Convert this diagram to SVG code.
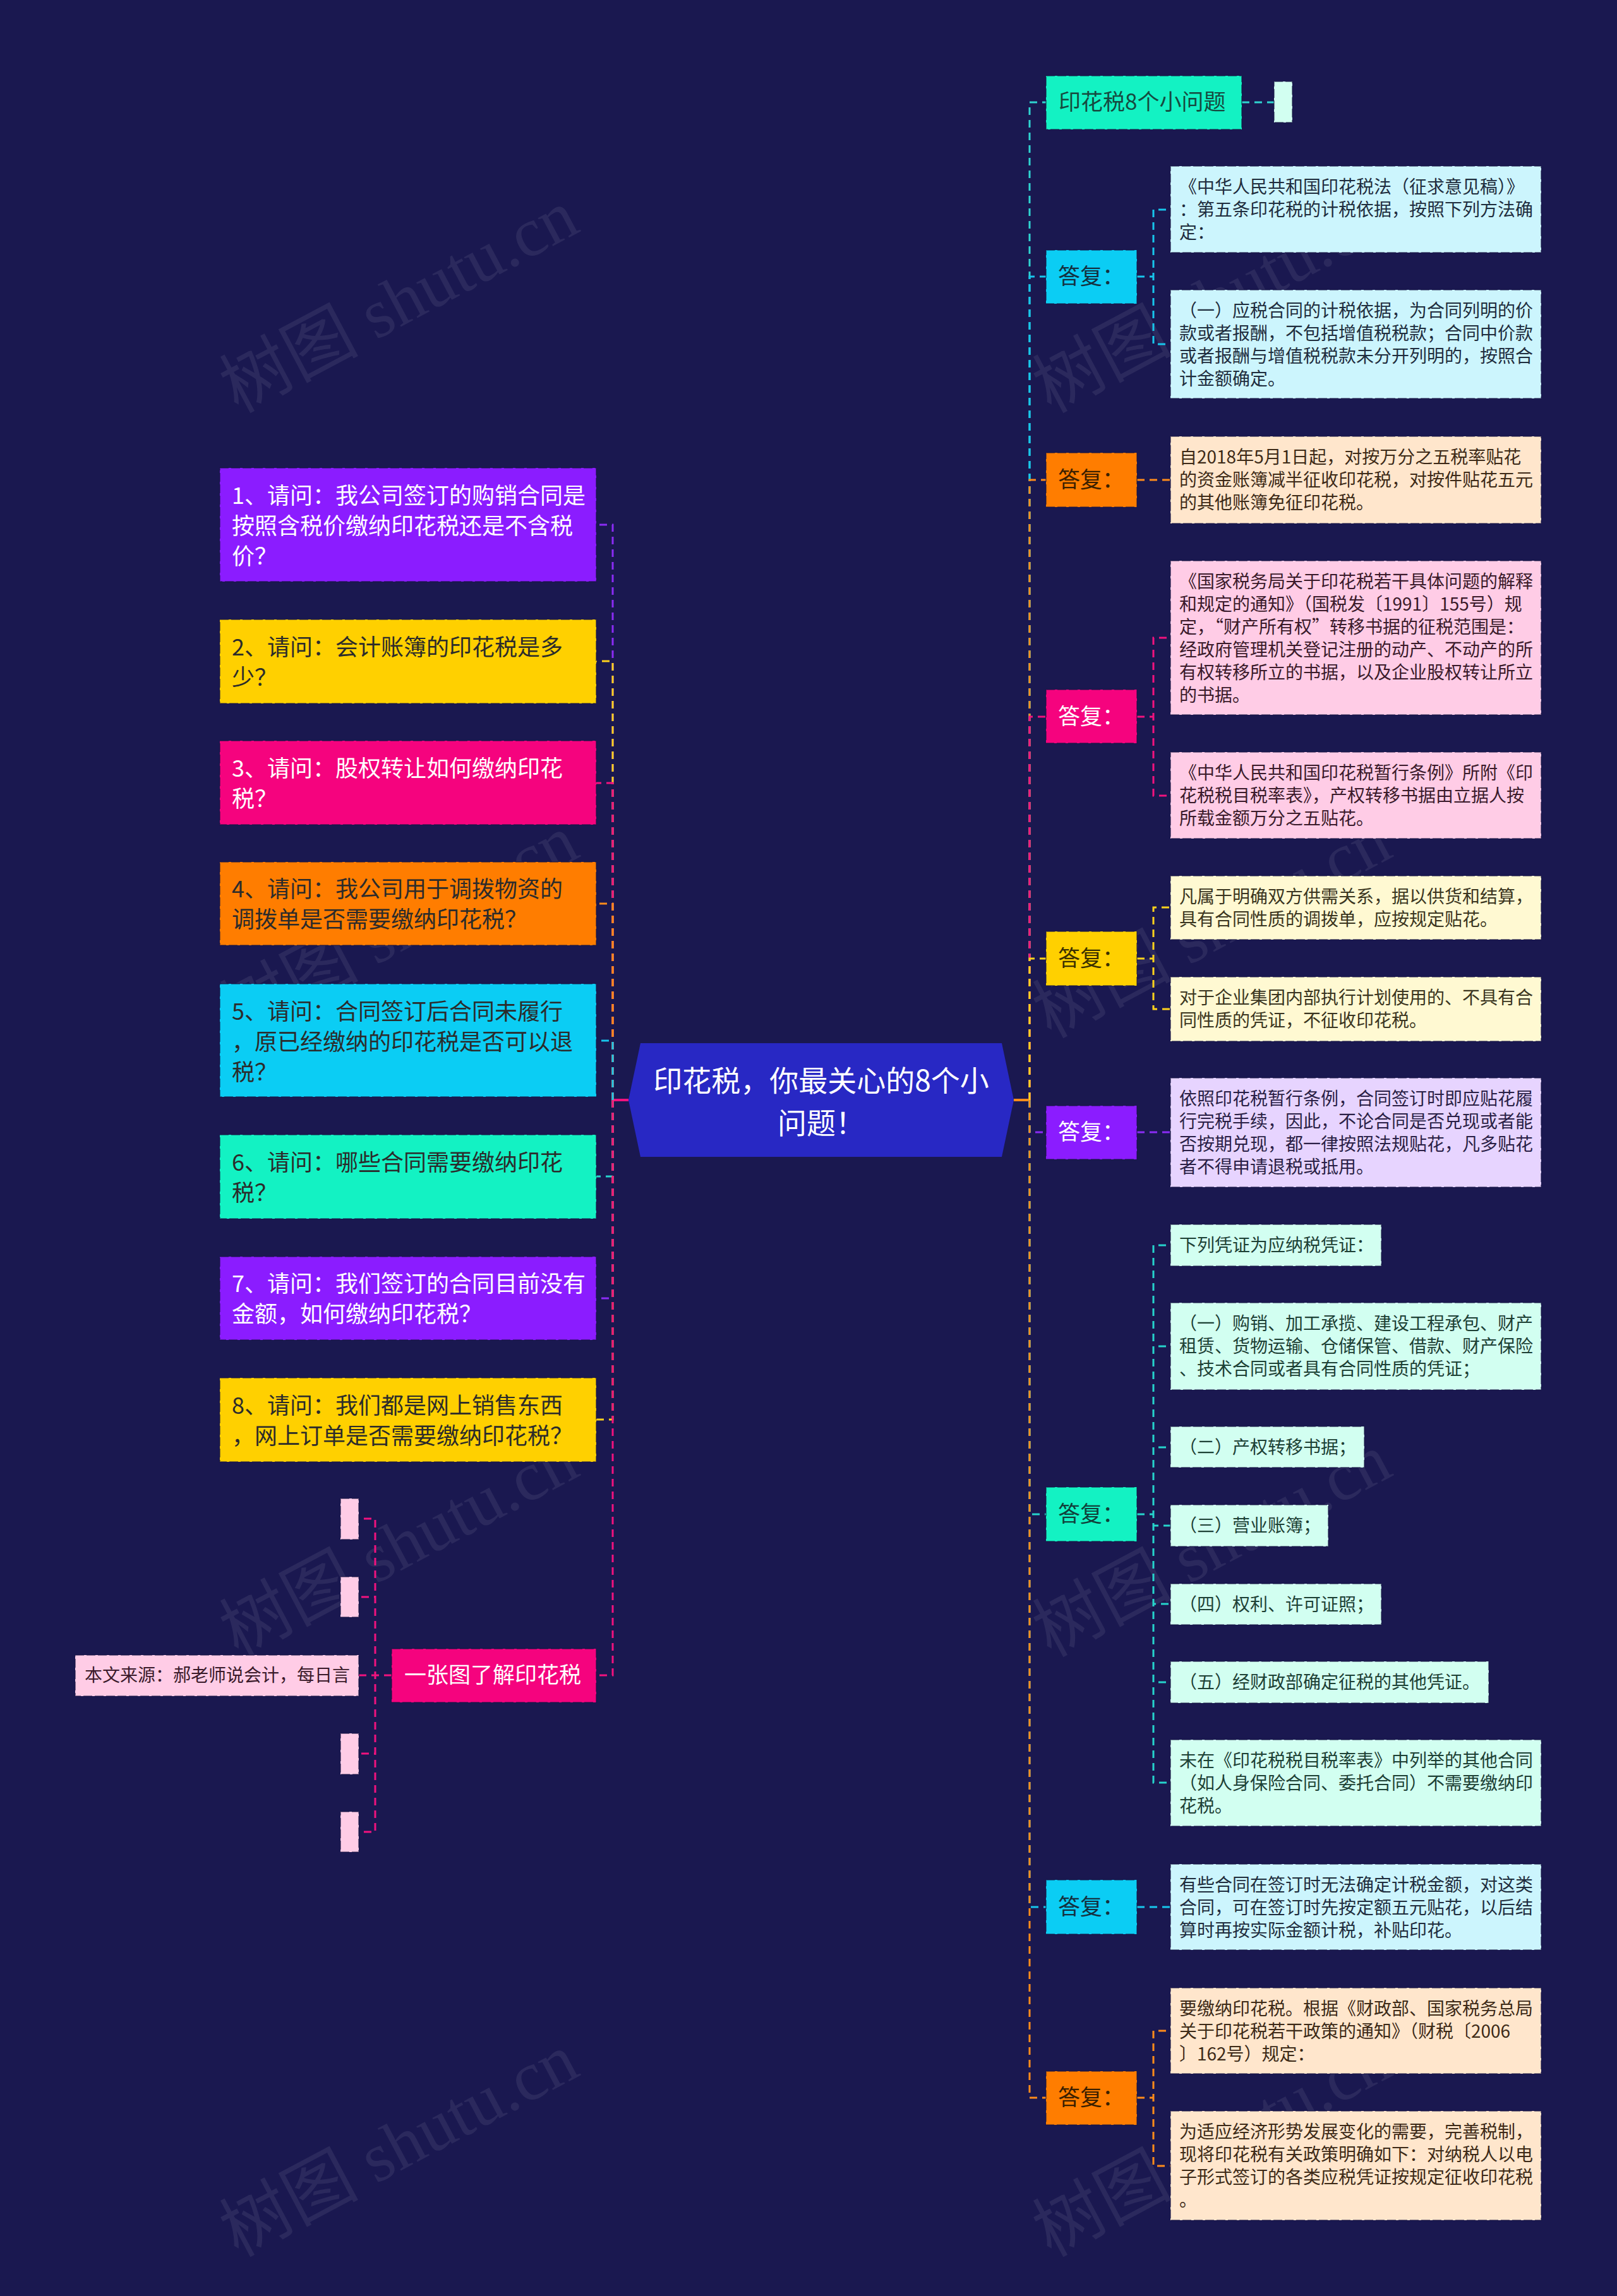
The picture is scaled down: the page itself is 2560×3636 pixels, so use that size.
<svg xmlns="http://www.w3.org/2000/svg" width="2560" height="3636" viewBox="0 0 2560 3636">
<style>
text{font-family:"Noto Sans CJK SC","Noto Sans",sans-serif}
.c{fill:none;stroke-width:3;stroke-dasharray:12 8}
.b{stroke:#14123f;stroke-opacity:.5;stroke-width:2;stroke-dasharray:14 4}
.t28{font-size:28px}
.t35{font-size:35px}
.t36{font-size:36px}
.wm{font-family:"Liberation Serif","Noto Sans CJK SC",serif;font-size:110px;fill:#9a9ab8;opacity:.13}
.vio{fill:#8b1cff}.yel{fill:#ffd000}.pnk{fill:#f5037e}.org{fill:#ff7d00}.cya{fill:#0bcdf4}.aqu{fill:#13f2c3}
.lcy{fill:#ccf5fd}.lor{fill:#ffe6cc}.lpk{fill:#ffcce6}.lye{fill:#fff9d2}.lvi{fill:#e7d4ff}.lmi{fill:#d2fff1}
.w{fill:#ffffff}
</style>
<rect width="2560" height="3636" fill="#1a1850"/>

<g id="watermarks">
<text class="wm" transform="translate(649,510) rotate(-28)" text-anchor="middle">树图 shutu.cn</text>
<text class="wm" transform="translate(1936,510) rotate(-28)" text-anchor="middle">树图 shutu.cn</text>
<text class="wm" transform="translate(649,1500) rotate(-28)" text-anchor="middle">树图 shutu.cn</text>
<text class="wm" transform="translate(1936,1500) rotate(-28)" text-anchor="middle">树图 shutu.cn</text>
<text class="wm" transform="translate(649,2480) rotate(-28)" text-anchor="middle">树图 shutu.cn</text>
<text class="wm" transform="translate(1936,2480) rotate(-28)" text-anchor="middle">树图 shutu.cn</text>
<text class="wm" transform="translate(649,3430) rotate(-28)" text-anchor="middle">树图 shutu.cn</text>
<text class="wm" transform="translate(1936,3430) rotate(-28)" text-anchor="middle">树图 shutu.cn</text>
</g>

<g id="connectors">
<line x1="1605" y1="1742" x2="1630" y2="1742" stroke="#ff8c1a" stroke-width="4"/>
<line x1="970" y1="1742" x2="995" y2="1742" stroke="#f2127e" stroke-width="4"/>
<path class="c" stroke="#2fd4d0" d="M1630,1742V162H1656"/>
<path class="c" stroke="#17c6ec" d="M1630,1742V438H1656"/>
<path class="c" stroke="#ff8c1a" d="M1630,1742V760H1656"/>
<path class="c" stroke="#f2127e" d="M1630,1742V1135H1656"/>
<path class="c" stroke="#ffd21c" d="M1630,1742V1518H1656"/>
<path class="c" stroke="#8b2cf5" d="M1630,1742V1793H1656"/>
<path class="c" stroke="#26d4cc" d="M1630,1742V2398H1656"/>
<path class="c" stroke="#17c6ec" d="M1630,1742V3020H1656"/>
<path class="c" stroke="#ff8c1a" d="M1630,1742V3322H1656"/>
<path class="c" stroke="#2fd4d0" d="M1966,162H2017"/>
<path class="c" stroke="#17c6ec" d="M1800,438H1826V332H1853M1800,438H1826V545H1853"/>
<path class="c" stroke="#ff8c1a" d="M1800,760H1853"/>
<path class="c" stroke="#f2127e" d="M1800,1135H1826V1010H1853M1800,1135H1826V1260H1853"/>
<path class="c" stroke="#ffd21c" d="M1800,1518H1826V1437H1853M1800,1518H1826V1598H1853"/>
<path class="c" stroke="#8b2cf5" d="M1800,1793H1853"/>
<path class="c" stroke="#26d4cc" d="M1800,2398H1826V1972H1853M1800,2398H1826V2132H1853M1800,2398H1826V2292H1853M1800,2398H1826V2416H1853M1800,2398H1826V2540H1853M1800,2398H1826V2664H1853M1800,2398H1826V2823H1853"/>
<path class="c" stroke="#17c6ec" d="M1800,3020H1853"/>
<path class="c" stroke="#ff8c1a" d="M1800,3322H1826V3216H1853M1800,3322H1826V3430H1853"/>
<path class="c" stroke="#8b2cf5" d="M970,1742V831H944"/>
<path class="c" stroke="#ffd21c" d="M970,1742V1047H944"/>
<path class="c" stroke="#f2127e" d="M970,1742V1240H944"/>
<path class="c" stroke="#ff8c1a" d="M970,1742V1431H944"/>
<path class="c" stroke="#17c6ec" d="M970,1742V1648H944"/>
<path class="c" stroke="#26d4cc" d="M970,1742V1863H944"/>
<path class="c" stroke="#8b2cf5" d="M970,1742V2056H944"/>
<path class="c" stroke="#ffd21c" d="M970,1742V2248H944"/>
<path class="c" stroke="#f2127e" d="M970,1742V2653H944"/>
<path class="c" stroke="#f2127e" d="M620,2653H594V2405H568M620,2653H594V2529H568M620,2653H594V2653H568M620,2653H594V2777H568M620,2653H594V2901H568"/>
</g>

<g id="center">
<polygon points="995,1742 1014,1652 1586,1652 1605,1742 1586,1832 1014,1832" fill="#2828c4"/>
<text x="1300" y="1728" font-size="46" fill="#ffffff" text-anchor="middle">印花税，你最关心的8个小</text>
<text x="1300" y="1795" font-size="46" fill="#ffffff" text-anchor="middle">问题！</text>
</g>

<g id="r1">
<rect class="aqu b" x="1656" y="120" width="310" height="85"/>
<text class="t35" x="1676" y="174" fill="#164a40">印花税8个小问题</text>
</g>
<g id="r1a"><rect class="lmi b" x="2017" y="129" width="29" height="65"/></g>

<g id="r2">
<rect class="cya b" x="1656" y="396" width="144" height="85"/>
<text class="t35" x="1675" y="450" fill="#143040">答复：</text>
</g>
<g id="r2a">
<rect class="lcy b" x="1853" y="263" width="587" height="137"/>
<text class="t28" fill="#1f2d3d"><tspan x="1867" y="306">《中华人民共和国印花税法（征求意见稿）》</tspan><tspan x="1867" y="342">：第五条印花税的计税依据，按照下列方法确</tspan><tspan x="1867" y="378">定：</tspan></text>
</g>
<g id="r2b">
<rect class="lcy b" x="1853" y="459" width="587" height="172"/>
<text class="t28" fill="#1f2d3d"><tspan x="1867" y="502">（一）应税合同的计税依据，为合同列明的价</tspan><tspan x="1867" y="538">款或者报酬，不包括增值税税款；合同中价款</tspan><tspan x="1867" y="574">或者报酬与增值税税款未分开列明的，按照合</tspan><tspan x="1867" y="610">计金额确定。</tspan></text>
</g>

<g id="r3">
<rect class="org b" x="1656" y="717" width="144" height="86"/>
<text class="t35" x="1675" y="772" fill="#3a2000">答复：</text>
</g>
<g id="r3a">
<rect class="lor b" x="1853" y="691" width="587" height="138"/>
<text class="t28" fill="#3d2a17"><tspan x="1867" y="734">自2018年5月1日起，对按万分之五税率贴花</tspan><tspan x="1867" y="770">的资金账簿减半征收印花税，对按件贴花五元</tspan><tspan x="1867" y="806">的其他账簿免征印花税。</tspan></text>
</g>

<g id="r4">
<rect class="pnk b" x="1656" y="1092" width="144" height="85"/>
<text class="t35 w" x="1675" y="1147">答复：</text>
</g>
<g id="r4a">
<rect class="lpk b" x="1853" y="888" width="587" height="244"/>
<text class="t28" fill="#3a1a2a"><tspan x="1867" y="931">《国家税务局关于印花税若干具体问题的解释</tspan><tspan x="1867" y="967">和规定的通知》（国税发〔1991〕155号）规</tspan><tspan x="1867" y="1003">定，“财产所有权”转移书据的征税范围是：</tspan><tspan x="1867" y="1039">经政府管理机关登记注册的动产、不动产的所</tspan><tspan x="1867" y="1075">有权转移所立的书据，以及企业股权转让所立</tspan><tspan x="1867" y="1111">的书据。</tspan></text>
</g>
<g id="r4b">
<rect class="lpk b" x="1853" y="1191" width="587" height="137"/>
<text class="t28" fill="#3a1a2a"><tspan x="1867" y="1234">《中华人民共和国印花税暂行条例》所附《印</tspan><tspan x="1867" y="1270">花税税目税率表》，产权转移书据由立据人按</tspan><tspan x="1867" y="1306">所载金额万分之五贴花。</tspan></text>
</g>

<g id="r5">
<rect class="yel b" x="1656" y="1475" width="144" height="86"/>
<text class="t35" x="1675" y="1530" fill="#3a3000">答复：</text>
</g>
<g id="r5a">
<rect class="lye b" x="1853" y="1387" width="587" height="101"/>
<text class="t28" fill="#3a3520"><tspan x="1867" y="1430">凡属于明确双方供需关系，据以供货和结算，</tspan><tspan x="1867" y="1466">具有合同性质的调拨单，应按规定贴花。</tspan></text>
</g>
<g id="r5b">
<rect class="lye b" x="1853" y="1547" width="587" height="102"/>
<text class="t28" fill="#3a3520"><tspan x="1867" y="1590">对于企业集团内部执行计划使用的、不具有合</tspan><tspan x="1867" y="1626">同性质的凭证，不征收印花税。</tspan></text>
</g>

<g id="r6">
<rect class="vio b" x="1656" y="1751" width="144" height="85"/>
<text class="t35 w" x="1675" y="1805">答复：</text>
</g>
<g id="r6a">
<rect class="lvi b" x="1853" y="1707" width="587" height="173"/>
<text class="t28" fill="#2a1f45"><tspan x="1867" y="1750">依照印花税暂行条例，合同签订时即应贴花履</tspan><tspan x="1867" y="1786">行完税手续，因此，不论合同是否兑现或者能</tspan><tspan x="1867" y="1822">否按期兑现，都一律按照法规贴花，凡多贴花</tspan><tspan x="1867" y="1858">者不得申请退税或抵用。</tspan></text>
</g>

<g id="r7">
<rect class="aqu b" x="1656" y="2355" width="144" height="86"/>
<text class="t35" x="1675" y="2410" fill="#10403a">答复：</text>
</g>
<g id="r7a">
<rect class="lmi b" x="1853" y="1939" width="334" height="66"/>
<text class="t28" x="1867" y="1982" fill="#1d4035">下列凭证为应纳税凭证：</text>
</g>
<g id="r7b">
<rect class="lmi b" x="1853" y="2063" width="587" height="138"/>
<text class="t28" fill="#1d4035"><tspan x="1867" y="2106">（一）购销、加工承揽、建设工程承包、财产</tspan><tspan x="1867" y="2142">租赁、货物运输、仓储保管、借款、财产保险</tspan><tspan x="1867" y="2178">、技术合同或者具有合同性质的凭证；</tspan></text>
</g>
<g id="r7c">
<rect class="lmi b" x="1853" y="2259" width="307" height="65"/>
<text class="t28" x="1867" y="2302" fill="#1d4035">（二）产权转移书据；</text>
</g>
<g id="r7d">
<rect class="lmi b" x="1853" y="2383" width="250" height="66"/>
<text class="t28" x="1867" y="2426" fill="#1d4035">（三）营业账簿；</text>
</g>
<g id="r7e">
<rect class="lmi b" x="1853" y="2508" width="334" height="65"/>
<text class="t28" x="1867" y="2551" fill="#1d4035">（四）权利、许可证照；</text>
</g>
<g id="r7f">
<rect class="lmi b" x="1853" y="2631" width="504" height="66"/>
<text class="t28" x="1867" y="2674" fill="#1d4035">（五）经财政部确定征税的其他凭证。</text>
</g>
<g id="r7g">
<rect class="lmi b" x="1853" y="2755" width="587" height="137"/>
<text class="t28" fill="#1d4035"><tspan x="1867" y="2798">未在《印花税税目税率表》中列举的其他合同</tspan><tspan x="1867" y="2834">（如人身保险合同、委托合同）不需要缴纳印</tspan><tspan x="1867" y="2870">花税。</tspan></text>
</g>

<g id="r8">
<rect class="cya b" x="1656" y="2977" width="144" height="86"/>
<text class="t35" x="1675" y="3032" fill="#143040">答复：</text>
</g>
<g id="r8a">
<rect class="lcy b" x="1853" y="2952" width="587" height="136"/>
<text class="t28" fill="#1f2d3d"><tspan x="1867" y="2995">有些合同在签订时无法确定计税金额，对这类</tspan><tspan x="1867" y="3031">合同，可在签订时先按定额五元贴花，以后结</tspan><tspan x="1867" y="3067">算时再按实际金额计税，补贴印花。</tspan></text>
</g>

<g id="r9">
<rect class="org b" x="1656" y="3280" width="144" height="85"/>
<text class="t35" x="1675" y="3334" fill="#3a2000">答复：</text>
</g>
<g id="r9a">
<rect class="lor b" x="1853" y="3148" width="587" height="136"/>
<text class="t28" fill="#3d2a17"><tspan x="1867" y="3191">要缴纳印花税。根据《财政部、国家税务总局</tspan><tspan x="1867" y="3227">关于印花税若干政策的通知》（财税〔2006</tspan><tspan x="1867" y="3263">〕162号）规定：</tspan></text>
</g>
<g id="r9b">
<rect class="lor b" x="1853" y="3343" width="587" height="173"/>
<text class="t28" fill="#3d2a17"><tspan x="1867" y="3386">为适应经济形势发展变化的需要，完善税制，</tspan><tspan x="1867" y="3422">现将印花税有关政策明确如下：对纳税人以电</tspan><tspan x="1867" y="3458">子形式签订的各类应税凭证按规定征收印花税</tspan><tspan x="1867" y="3494">。</tspan></text>
</g>

<g id="q1">
<rect class="vio b" x="348" y="741" width="596" height="180"/>
<text class="t36 w"><tspan x="367" y="798">1、请问：我公司签订的购销合同是</tspan><tspan x="367" y="846">按照含税价缴纳印花税还是不含税</tspan><tspan x="367" y="894">价？</tspan></text>
</g>
<g id="q2">
<rect class="yel b" x="348" y="981" width="596" height="133"/>
<text class="t36" fill="#2b2b2b"><tspan x="367" y="1038">2、请问：会计账簿的印花税是多</tspan><tspan x="367" y="1086">少？</tspan></text>
</g>
<g id="q3">
<rect class="pnk b" x="348" y="1173" width="596" height="133"/>
<text class="t36 w"><tspan x="367" y="1230">3、请问：股权转让如何缴纳印花</tspan><tspan x="367" y="1278">税？</tspan></text>
</g>
<g id="q4">
<rect class="org b" x="348" y="1365" width="596" height="132"/>
<text class="t36" fill="#2b2b2b"><tspan x="367" y="1421">4、请问：我公司用于调拨物资的</tspan><tspan x="367" y="1469">调拨单是否需要缴纳印花税？</tspan></text>
</g>
<g id="q5">
<rect class="cya b" x="348" y="1558" width="596" height="179"/>
<text class="t36" fill="#2b2b2b"><tspan x="367" y="1615">5、请问：合同签订后合同未履行</tspan><tspan x="367" y="1663">，原已经缴纳的印花税是否可以退</tspan><tspan x="367" y="1711">税？</tspan></text>
</g>
<g id="q6">
<rect class="aqu b" x="348" y="1797" width="596" height="133"/>
<text class="t36" fill="#2b2b2b"><tspan x="367" y="1854">6、请问：哪些合同需要缴纳印花</tspan><tspan x="367" y="1902">税？</tspan></text>
</g>
<g id="q7">
<rect class="vio b" x="348" y="1990" width="596" height="132"/>
<text class="t36 w"><tspan x="367" y="2046">7、请问：我们签订的合同目前没有</tspan><tspan x="367" y="2094">金额，如何缴纳印花税？</tspan></text>
</g>
<g id="q8">
<rect class="yel b" x="348" y="2182" width="596" height="133"/>
<text class="t36" fill="#2b2b2b"><tspan x="367" y="2239">8、请问：我们都是网上销售东西</tspan><tspan x="367" y="2287">，网上订单是否需要缴纳印花税？</tspan></text>
</g>

<g id="l9">
<rect class="pnk b" x="620" y="2611" width="324" height="85"/>
<text class="t35 w" x="640" y="2665">一张图了解印花税</text>
</g>
<g id="l9a"><rect class="lpk b" x="539" y="2373" width="29" height="65"/></g>
<g id="l9b"><rect class="lpk b" x="539" y="2497" width="29" height="64"/></g>
<g id="l9c">
<rect class="lpk b" x="119" y="2621" width="449" height="65"/>
<text class="t28" x="134" y="2663" fill="#3a1a2a">本文来源：郝老师说会计，每日言</text>
</g>
<g id="l9d"><rect class="lpk b" x="539" y="2745" width="29" height="65"/></g>
<g id="l9e"><rect class="lpk b" x="539" y="2869" width="29" height="64"/></g>
</svg>
